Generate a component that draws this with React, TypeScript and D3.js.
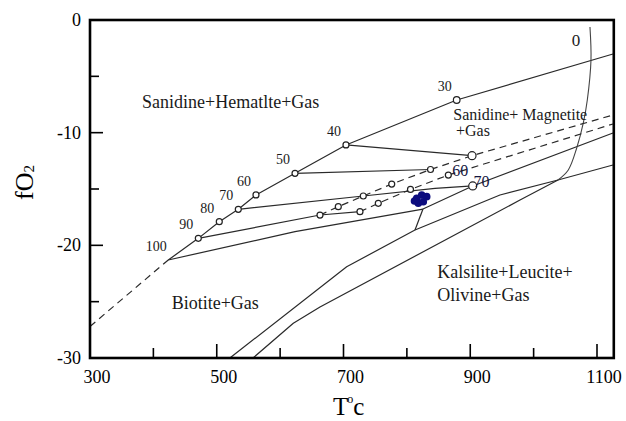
import React from 'react';
import * as d3 from 'd3';

const W = 626;
const H = 421;

// ---- axis ticks ----
const xTicksMajor = [300, 500, 700, 900, 1100];
const xTicksMinor = [400, 600, 800, 1000];
const yTicksMajor = [0, -10, -20, -30];
const yTicksMinor = [-5, -15, -25];

// ---- biotite composition points on the upper boundary (annite %) ----
const annite = [100, 90, 80, 70, 60, 50, 40, 30];
const anniteT = [423.5, 470.9, 504.0, 534.0, 561.9, 623.5, 703.9, 878.6];
const anniteF = [-21.3, -19.38, -17.9, -16.8, -15.53, -13.61, -11.09, -7.1];
const boundaryEnd: [number, number] = [1125.2, -3.02];

// ---- lines [T, logfO2] ----
const dashedExtension: [number, number][] = [[300, -27.2], [423.5, -21.3]];
const line100: [number, number][] = [[423.5, -21.3], [623.5, -18.79], [825.4, -16.78]];
const line90: [number, number][] = [[470.9, -19.38], [662.9, -17.31], [726.0, -17.01]];
const line70: [number, number][] = [[534.0, -16.8], [731.2, -15.62], [844.4, -14.94], [903.9, -14.73]];
const line50: [number, number][] = [[623.5, -13.61], [837.3, -13.27]];
const line40: [number, number][] = [[703.9, -11.09], [902.8, -12.04]];
const dashUpper: [number, number][] = [[662.9, -17.31], [691.8, -16.57], [731.2, -15.62], [776.1, -14.56], [837.3, -13.27], [902.8, -12.04], [1125.2, -8.43]];
const dashLower: [number, number][] = [[726.0, -17.01], [754.9, -16.27], [805.7, -15.04], [865.4, -13.76], [1125.2, -9.23]];
const lineP: [number, number][] = [[825.4, -16.78], [903.9, -14.73], [1125.2, -10.03]];
const connector: [number, number][] = [[825.4, -16.78], [812.8, -18.64]];
const lineL1: [number, number][] = [[520.7, -30], [705.0, -21.9], [812.8, -18.64], [946.9, -15.53], [1038.5, -14.2], [1125.2, -12.87]];
const lineL2: [number, number][] = [[557.2, -30], [620.8, -26.92], [662.9, -25.47], [978.5, -15.98], [1038.5, -14.2]];
const curveZero: [number, number][] = [[1088.9, -0.62], [1090.5, -3.55], [1084.7, -7.1], [1078.4, -9.14], [1068.0, -11.36], [1054.7, -13.31], [1038.5, -14.2]];

// ---- experimental points ----
const openPoints: [number, number][] = [
  [662.9, -17.31], [726.0, -17.01], [691.8, -16.57], [731.2, -15.62], [754.9, -16.27],
  [776.1, -14.56], [805.7, -15.04], [837.3, -13.27], [865.4, -13.76],
];
const bigPoints: [number, number][] = [[902.8, -12.04], [903.9, -14.73]];
const samplePoints: [number, number][] = [
  [815.5, -15.83], [823.4, -15.53], [831.3, -15.68], [818.0, -16.27], [825.9, -16.13], [812.0, -16.07],
];

// ---- annotations [text, T, logfO2] ----
const regionLabels: [string, number, number][] = [
  ['Sanidine+Hematlte+Gas', 382.1, -7.85],
  ['Biotite+Gas', 428.9, -25.65],
  ['Kalsilite+Leucite+', 848.0, -22.94],
  ['Olivine+Gas', 848.0, -24.98],
];
const smallRegionLabels: [string, number, number][] = [
  ['Sanidine+ Magnetite', 873.3, -8.84],
  ['+Gas', 877.5, -10.3],
];
const pointLabels: [string, number, number][] = [
  ['60', 871.5, -13.85],
  ['70', 905.0, -14.83],
];
const zeroLabel: [string, number, number] = ['0', 1066.8, -2.31];

const FONT = '"Liberation Serif", "Times New Roman", serif';
const INK = '#1a1a1a';

export default function App() {
  const x = d3.scaleLinear().domain([300, 1100]).range([90, 597]);
  const y = d3.scaleLinear().domain([0, -30]).range([20, 358]);
  const left = x(300);
  const right = x(1126.5);
  const top = y(0);
  const bottom = y(-30);

  const line = d3.line<[number, number]>().x((d) => x(d[0])).y((d) => y(d[1]));
  const smooth = d3
    .line<[number, number]>()
    .x((d) => x(d[0]))
    .y((d) => y(d[1]))
    .curve(d3.curveCatmullRom.alpha(0.5));

  const boundary: [number, number][] = anniteT.map((t, i) => [t, anniteF[i]] as [number, number]).concat([boundaryEnd]);

  const solidLines = [line100, line90, line70, line50, line40, lineP, connector, lineL1, lineL2];

  return (
    <div style={{ position: 'absolute', left: 0, top: 0 }}>
      <svg width={W} height={H} style={{ display: 'block', background: '#fff' }}>
        {/* data lines */}
        <g fill="none" stroke="#2a2a2a" strokeWidth={1.2} strokeLinejoin="round">
          <path d={line(boundary) || ''} />
          {solidLines.map((l, i) => (
            <path key={i} d={line(l) || ''} />
          ))}
          <path d={smooth(curveZero) || ''} stroke="#444" strokeWidth={1.1} />
        </g>
        <g fill="none" stroke="#2a2a2a" strokeWidth={1.2} strokeDasharray="7,5">
          <path d={line(dashedExtension) || ''} />
          <path d={line(dashUpper) || ''} />
          <path d={line(dashLower) || ''} />
        </g>

        {/* open circles */}
        <g fill="#fff" stroke="#222" strokeWidth={1.2}>
          {anniteT.map((t, i) =>
            annite[i] === 100 ? null : (
              <circle key={'a' + i} cx={x(t)} cy={y(anniteF[i])} r={annite[i] === 30 ? 3.3 : 3} />
            )
          )}
          {openPoints.map((p, i) => (
            <circle key={'o' + i} cx={x(p[0])} cy={y(p[1])} r={3} />
          ))}
          {bigPoints.map((p, i) => (
            <circle key={'b' + i} cx={x(p[0])} cy={y(p[1])} r={4} />
          ))}
        </g>

        {/* sample cluster */}
        <g fill="#0c0c7e">
          {samplePoints.map((p, i) => (
            <circle key={'s' + i} cx={x(p[0])} cy={y(p[1])} r={3.8} />
          ))}
        </g>

        {/* annite labels */}
        <g fontFamily={FONT} fontSize={14} fill={INK} textAnchor="middle">
          {anniteT.map((t, i) => (
            <text key={'l' + i} x={x(t) - 12} y={y(anniteF[i]) - 14 + 5}>
              {annite[i]}
            </text>
          ))}
        </g>
        <g fontFamily={FONT} fontSize={16} fill="#141440">
          {pointLabels.map((l, i) => (
            <text key={'p' + i} x={x(l[1])} y={y(l[2])}>
              {l[0]}
            </text>
          ))}
        </g>
        <text x={x(zeroLabel[1])} y={y(zeroLabel[2])} fontFamily={FONT} fontSize={17} fill={INK} textAnchor="middle">
          {zeroLabel[0]}
        </text>

        {/* region labels */}
        <g fontFamily={FONT} fontSize={18} fill={INK}>
          {regionLabels.map((l, i) => (
            <text key={'r' + i} x={x(l[1])} y={y(l[2])}>
              {l[0]}
            </text>
          ))}
        </g>
        <g fontFamily={FONT} fontSize={16} fill={INK}>
          {smallRegionLabels.map((l, i) => (
            <text key={'m' + i} x={x(l[1])} y={y(l[2])} style={{ whiteSpace: 'pre' }}>
              {l[0]}
            </text>
          ))}
        </g>

        {/* frame */}
        <rect x={left} y={top} width={right - left} height={bottom - top} fill="none" stroke="#000" strokeWidth={2.6} />

        {/* ticks */}
        <g stroke="#000" strokeWidth={1.6}>
          {xTicksMajor.map((t) => (
            <line key={'xM' + t} x1={x(t)} x2={x(t)} y1={bottom} y2={bottom - 14} />
          ))}
          {xTicksMinor.map((t) => (
            <line key={'xm' + t} x1={x(t)} x2={x(t)} y1={bottom} y2={bottom - 10} />
          ))}
          {yTicksMajor.map((t) => (
            <line key={'yM' + t} x1={left} x2={left + 13} y1={y(t)} y2={y(t)} />
          ))}
          {yTicksMinor.map((t) => (
            <line key={'ym' + t} x1={left} x2={left + 9} y1={y(t)} y2={y(t)} />
          ))}
        </g>

        {/* tick labels */}
        <g fontFamily={FONT} fontSize={18} fill="#000">
          {xTicksMajor.map((t) => (
            <text key={'xl' + t} x={x(t) + 7} y={bottom + 25} textAnchor="middle">
              {t}
            </text>
          ))}
          {yTicksMajor.map((t) => (
            <text key={'yl' + t} x={left - 9} y={y(t) + 6} textAnchor="end">
              {t}
            </text>
          ))}
        </g>

        {/* axis titles */}
        <text transform="translate(33,200) rotate(-90)" fontFamily={FONT} fontSize={26} fill="#000">
          fO
          <tspan fontSize={15} dy={1}>2</tspan>
        </text>
        <text x={333} y={415} fontFamily={FONT} fontSize={25} fill="#000">
          T
          <tspan fontSize={12} dx={-1} dy={-12}>o</tspan>
          <tspan dy={12}>c</tspan>
        </text>
      </svg>
    </div>
  );
}
